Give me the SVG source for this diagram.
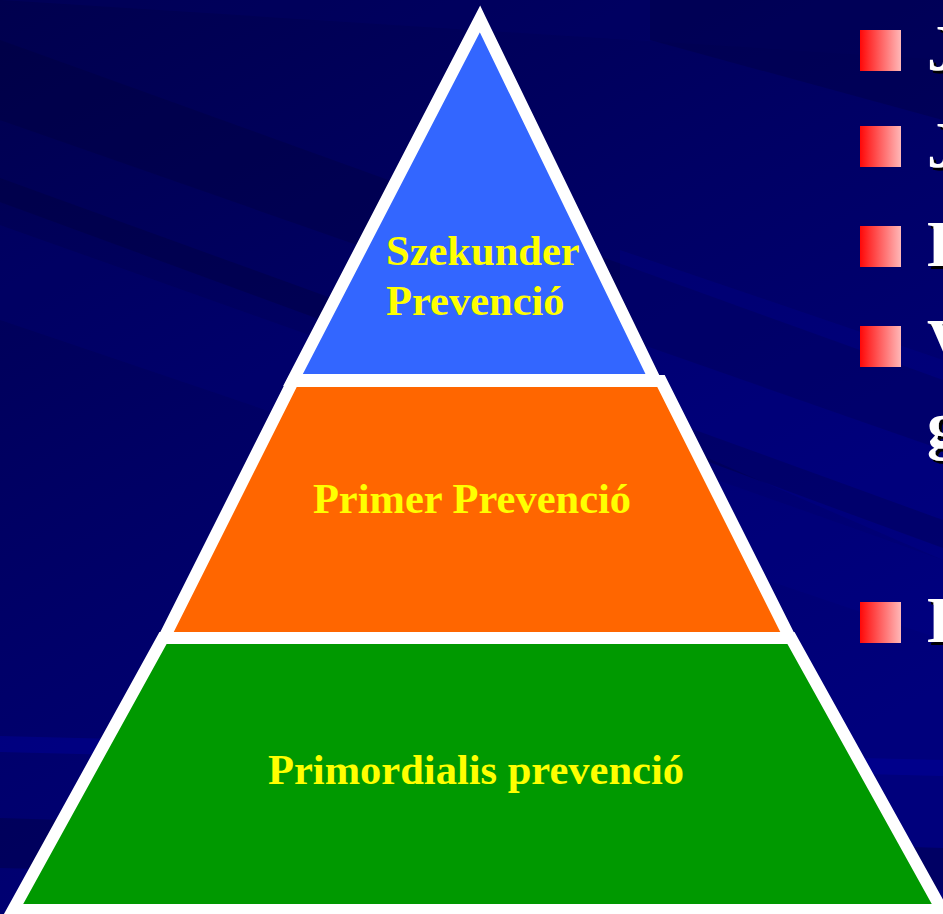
<svg xmlns="http://www.w3.org/2000/svg" width="943" height="914" viewBox="0 0 943 914">
  <defs>
    <linearGradient id="bgGrad" x1="0" y1="0" x2="0.55" y2="1">
      <stop offset="0" stop-color="#00004e"/>
      <stop offset="0.45" stop-color="#000064"/>
      <stop offset="1" stop-color="#00007c"/>
    </linearGradient>
    <linearGradient id="bulletGrad" x1="0" y1="0" x2="1" y2="0">
      <stop offset="0" stop-color="#ff0808"/>
      <stop offset="1" stop-color="#ffb8b8"/>
    </linearGradient>
    <filter id="textShadow" x="-20%" y="-20%" width="160%" height="160%">
      <feDropShadow dx="3" dy="3" stdDeviation="0" flood-color="#000000" flood-opacity="1"/>
    </filter>
    <style>
      .tier { stroke: #ffffff; stroke-width: 12; stroke-linejoin: miter; }
      .label { font-family: "Liberation Serif", "Times New Roman", serif; font-weight: bold; font-size: 42.5px; fill: #ffff00; }
      .bullet { fill: url(#bulletGrad); }
      .item { font-family: "Liberation Serif", "Times New Roman", serif; font-weight: bold; font-size: 66px; fill: #ffffff; filter: url(#textShadow); }
    </style>
  </defs>

  <!-- background with diagonal streaks -->
  <g id="background">
    <rect x="0" y="0" width="943" height="914" fill="url(#bgGrad)"/>
    <polygon points="0,0 943,0 943,60 0,0" fill="#000070" opacity="0.25"/>
    <polygon points="0,40 943,380 943,450 0,120" fill="#000038" opacity="0.3"/>
    <polygon points="0,178 943,520 943,548 0,202" fill="#000038" opacity="0.35"/>
    <polygon points="0,225 943,560 943,640 0,320" fill="#0000a8" opacity="0.12"/>
    <polygon points="620,250 943,360 943,560 620,420" fill="#0000a0" opacity="0.2"/>
    <polygon points="0,736 943,760 943,776 0,752" fill="#0000b0" opacity="0.3"/>
    <polygon points="0,818 943,848 943,890 0,868" fill="#000038" opacity="0.35"/>
    <polygon points="650,0 943,0 943,120 650,40" fill="#000040" opacity="0.35"/>
  </g>

  <!-- pyramid tiers -->
  <g id="tier-primordialis">
    <polygon class="tier" points="163,638 791,638 942,910 13,910" fill="#009900"/>
    <text class="label" x="476" y="784" text-anchor="middle">Primordialis prevenció</text>
  </g>
  <g id="tier-primer">
    <polygon class="tier" points="293,381 661,381 790,638 164,638" fill="#ff6600"/>
    <text class="label" x="472" y="513" text-anchor="middle">Primer Prevenció</text>
  </g>
  <g id="tier-szekunder">
    <polygon class="tier" points="480,19 655,380 293,380" fill="#3366ff"/>
    <text class="label" x="386" y="265">Szekunder</text>
    <text class="label" x="386" y="315">Prevenció</text>
  </g>

  <!-- bulleted list along the right edge -->
  <g id="bullets">
    <rect class="bullet" x="860" y="30" width="41" height="41"/>
    <rect class="bullet" x="860" y="126" width="41" height="41"/>
    <rect class="bullet" x="860" y="226" width="41" height="41"/>
    <rect class="bullet" x="860" y="326" width="41" height="41"/>
    <rect class="bullet" x="860" y="602" width="41" height="41"/>
    <text class="item" x="927" y="70">J</text>
    <text class="item" x="927" y="167">J</text>
    <text class="item" x="927" y="266">E</text>
    <text class="item" x="927" y="364">V</text>
    <text class="item" x="927" y="447">g</text>
    <text class="item" x="927" y="642">E</text>
  </g>
</svg>
